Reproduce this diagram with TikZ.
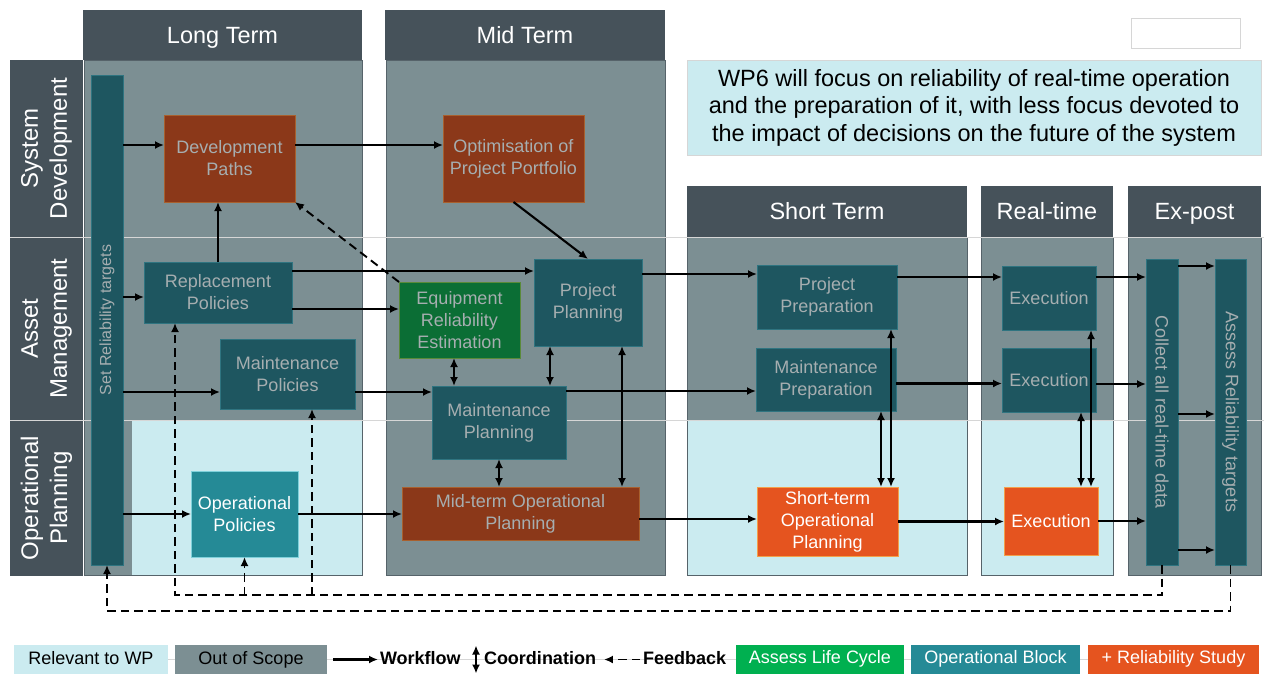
\documentclass[tikz,border=0pt]{standalone}
\usepackage{fontspec}
\setmainfont{Liberation Sans}
\usetikzlibrary{arrows.meta,calc}
\definecolor{hdr}{HTML}{46525A}
\definecolor{bodyg}{HTML}{7C8F93}
\definecolor{bodyedge}{HTML}{56636A}
\definecolor{lblue}{HTML}{CBEBF0}
\definecolor{tealc}{HTML}{1E5660}
\definecolor{tealedge}{HTML}{2F7480}
\definecolor{tgray}{HTML}{A6AEB0}
\definecolor{brownc}{HTML}{8B3819}
\definecolor{brownedge}{HTML}{A8602E}
\definecolor{greenc}{HTML}{0B6E35}
\definecolor{greenedge}{HTML}{5A8A3A}
\definecolor{teal2}{HTML}{258A96}
\definecolor{teal2edge}{HTML}{7FD0DA}
\definecolor{orangec}{HTML}{E5541F}
\definecolor{orangeedge}{HTML}{F3A04A}
\definecolor{leggreen}{HTML}{00B050}
\definecolor{faint}{HTML}{D6D6D6}
\begin{document}
\begin{tikzpicture}[x=1pt,y=-1pt,
  every node/.style={inner sep=0pt, outer sep=0pt},
  box/.style={draw, line width=0.8pt, align=center, font=\fontsize{18}{22}\selectfont},
  tealbox/.style={box, fill=tealc, draw=tealedge, text=tgray},
  brownbox/.style={box, fill=brownc, draw=brownedge, text=tgray},
  greenbox/.style={box, fill=greenc, draw=greenedge, text=tgray},
  opbox/.style={box, fill=teal2, draw=teal2edge, text=white},
  orbox/.style={box, fill=orangec, draw=orangeedge, text=white},
  hdrbox/.style={fill=hdr, text=white, text height=21pt, text depth=5pt, font=\fontsize{23.5}{27}\selectfont},
  rowtxt/.style={text=white, align=center, font=\fontsize{24}{29}\selectfont},
  bartxt/.style={text=tgray, font=\fontsize{18}{22}\selectfont},
  bodyrect/.style={fill=bodyg, draw=bodyedge, line width=0.8pt},
  bluerect/.style={fill=lblue, draw=bodyedge, line width=0.8pt},
  wf/.style={line width=2.1pt, -{Latex[length=9pt,width=8pt]}},
  co/.style={line width=2.1pt, {Latex[length=9pt,width=8pt]}-{Latex[length=9pt,width=8pt]}},
  fb/.style={line width=1.9pt, dash pattern=on 8.5pt off 5pt, -{Latex[length=9pt,width=8pt]}},
  legbox/.style={minimum height=29pt, text height=13pt, text depth=4pt, font=\fontsize{18}{22}\selectfont},
  legtxt/.style={anchor=west, text height=13pt, text depth=4pt, font=\bfseries\fontsize{18}{22}\selectfont},
]
\useasboundingbox (0,0) rectangle (1264,673);
\fill[white] (0,0) rectangle (1264,673);

% ---- column bodies
\draw[bodyrect] (84,60) rectangle (362,575);
\fill[lblue] (132,420) rectangle (362,575);
\draw[bodyedge, line width=0.8pt] (84,60) rectangle (362,575);
\draw[bodyrect] (386,60) rectangle (665,575);
\draw[bodyrect] (687,237) rectangle (967,575);
\draw[bluerect] (687,420) rectangle (967,575);
\draw[bodyrect] (981,237) rectangle (1113,575);
\draw[bluerect] (981,420) rectangle (1113,575);
\draw[bodyrect] (1128,237) rectangle (1261,575);

% ---- row headers
\fill[hdr] (10,60) rectangle (83,576);
\draw[faint, line width=0.6pt] (10,237) -- (1264,237);
\draw[faint, line width=0.6pt] (10,420) -- (1264,420);
\node[rowtxt, rotate=90] (rsys) at (46.5,148.5) {System\\Development};
\node[rowtxt, rotate=90] (rasset) at (46.5,328.5) {Asset\\Management};
\node[rowtxt, rotate=90] (rop) at (46.5,498) {Operational\\Planning};

% ---- column headers
\node[hdrbox, minimum width=279pt, minimum height=50pt] (hlong) at (222.5,35) {Long Term};
\node[hdrbox, minimum width=280pt, minimum height=50pt] (hmid) at (525,35) {Mid Term};
\node[hdrbox, minimum width=280pt, minimum height=51pt] (hshort) at (827,211) {Short Term};
\node[hdrbox, minimum width=132pt, minimum height=51pt] (hreal) at (1047,211) {Real-time};
\node[hdrbox, minimum width=133pt, minimum height=51pt] (hex) at (1194.5,211) {Ex-post};

% ---- note boxes
\node[draw=faint, line width=0.8pt, minimum width=109pt, minimum height=30pt] (blank) at (1185.5,33) {};
\node[fill=lblue, draw=faint, line width=0.8pt, minimum width=574pt, minimum height=95pt,
      align=center, font=\fontsize{23.5}{27.5}\selectfont] (note) at (974,107.5)
  {WP6 will focus on reliability of real-time operation\\and the preparation of it, with less focus devoted to\\the impact of decisions on the future of the system};

% ---- bars
\node[fill=tealc, draw=tealedge, line width=0.8pt, minimum width=32pt, minimum height=490pt] (setbar) at (107,320) {};
\node[bartxt, rotate=90, font=\fontsize{16}{19}\selectfont] (settxt) at (setbar.center) {Set Reliability targets};
\node[fill=tealc, draw=tealedge, line width=0.8pt, minimum width=32pt, minimum height=306pt] (collect) at (1162,412) {};
\node[bartxt, rotate=-90] (coltxt) at (collect.center) {Collect all real-time data};
\node[fill=tealc, draw=tealedge, line width=0.8pt, minimum width=31pt, minimum height=306pt] (assess) at (1230.5,412) {};
\node[bartxt, rotate=-90] (asstxt) at (assess.center) {Assess Reliability targets};

% ---- nodes
\node[brownbox, minimum width=131pt, minimum height=87pt] (devp) at (229.5,158.5) {Development\\Paths};
\node[brownbox, minimum width=141pt, minimum height=87pt] (opt) at (513.5,158.5) {Optimisation of\\Project Portfolio};
\node[tealbox, minimum width=148pt, minimum height=61pt] (rep) at (218,292.5) {Replacement\\Policies};
\node[tealbox, minimum width=135pt, minimum height=70pt] (mpol) at (287.5,374) {Maintenance\\Policies};
\node[greenbox, minimum width=121pt, minimum height=76pt] (ere) at (459.5,320) {Equipment\\Reliability\\Estimation};
\node[tealbox, minimum width=108pt, minimum height=87pt] (pp) at (588,302.5) {Project\\Planning};
\node[tealbox, minimum width=134pt, minimum height=73pt] (mplan) at (499,422.5) {Maintenance\\Planning};
\node[brownbox, minimum width=237pt, minimum height=53pt] (mop) at (520.5,513.5) {Mid-term Operational\\Planning};
\node[opbox, minimum width=107pt, minimum height=86pt] (opol) at (244.5,514) {Operational\\Policies};
\node[tealbox, minimum width=140pt, minimum height=64pt] (pprep) at (827,297) {Project\\Preparation};
\node[tealbox, minimum width=140pt, minimum height=63pt] (mprep) at (826,379.5) {Maintenance\\Preparation};
\node[tealbox, minimum width=94pt, minimum height=64pt] (ex1) at (1049,298) {Execution};
\node[tealbox, minimum width=94pt, minimum height=64pt] (ex2) at (1049,380) {Execution};
\node[orbox, minimum width=141pt, minimum height=69pt] (sop) at (827.5,521.5) {Short-term\\Operational\\Planning};
\node[orbox, minimum width=94pt, minimum height=68pt] (exo) at (1051,521) {Execution};

% ---- workflow arrows
\draw[wf] ([yshift=13.5pt]setbar.east |- devp.west) -- ([yshift=13.5pt]devp.west);
\draw[wf] ([yshift=13.5pt]devp.east) -- ([yshift=13.5pt]opt.west);
\draw[wf] (opt.south) -- (pp.north);
\draw[wf] (rep.north) -- (rep.north |- devp.south);
\draw[wf] ([yshift=-4.5pt]setbar.east |- rep.west) -- ([yshift=-4.5pt]rep.west);
\draw[wf] ([yshift=21.5pt]rep.east) -- ([yshift=21.5pt]rep.east -| pp.west);
\draw[wf] ([yshift=-16.5pt]rep.east) -- ([yshift=-16.5pt]rep.east -| ere.west);
\draw[wf] ([yshift=-18pt]setbar.east |- mpol.west) -- ([yshift=-18pt]mpol.west);
\draw[wf] ([yshift=-18pt]mpol.east) -- ([yshift=-18pt]mpol.east -| mplan.west);
\draw[wf] ([yshift=31.5pt]mplan.east) -- ([yshift=31.5pt]mplan.east -| mprep.west);
\draw[wf] ([yshift=28.5pt]pp.east) -- ([yshift=28.5pt]pp.east -| pprep.west);
\draw[wf] ([yshift=20pt]pprep.east) -- ([yshift=20pt]pprep.east -| ex1.west);
\draw[wf] ([yshift=21pt]ex1.east) -- ([yshift=21pt]ex1.east -| collect.west);
\draw[wf] ([yshift=-4pt]mprep.east) -- ([yshift=-4pt]mprep.east -| ex2.west);
\draw[wf] ([yshift=-4pt]ex2.east) -- ([yshift=-4pt]ex2.east -| collect.west);
\draw[wf] ([yshift=146pt]collect.east) -- ([yshift=146pt]assess.west);
\draw[wf] ([yshift=-2pt]collect.east) -- ([yshift=-2pt]assess.west);
\draw[wf] ([yshift=-138pt]collect.east) -- ([yshift=-138pt]assess.west);
\draw[wf] (setbar.east |- opol.west) -- (opol.west);
\draw[wf] (opol.east) -- (opol.east -| mop.west);
\draw[wf] ([yshift=-5.5pt]mop.east) -- ([yshift=-5.5pt]mop.east -| sop.west);
\draw[wf] (sop.east) -- (sop.east -| exo.west);
\draw[wf] (exo.east) -- (exo.east -| collect.west);

% ---- coordination arrows
\draw[co] ([xshift=-5.5pt]ere.south) -- ([xshift=-5.5pt]ere.south |- mplan.north);
\draw[co] ([xshift=-38pt]pp.south) -- ([xshift=-38pt]pp.south |- mplan.north);
\draw[co] (mplan.south) -- (mplan.south |- mop.north);
\draw[co] ([xshift=34pt]pp.south) -- ([xshift=34pt]pp.south |- mop.north);
\draw[co] ([xshift=55pt]mprep.south) -- ([xshift=55pt]mprep.south |- sop.north);
\draw[co] ([xshift=64pt]pprep.south) -- ([xshift=64pt]pprep.south |- sop.north);
\draw[co] ([xshift=32pt]ex2.south) -- ([xshift=32pt]ex2.south |- exo.north);
\draw[co] ([xshift=42pt]ex1.south) -- ([xshift=42pt]ex1.south |- exo.north);

% ---- feedback
\coordinate (fbA) at (175,595);
\coordinate (fbM) at (312,595);
\coordinate (fbB) at (107,611);
\draw[fb] (ere.north west) -- (devp.south east);
\draw[fb] (collect.south) |- (fbA) -- (fbA |- rep.south);
\draw[fb] (opol.south |- fbA) -- (opol.south);
\draw[fb] (fbM) -- (fbM |- mpol.south);
\draw[fb] (assess.south) |- (fbB) -- (setbar.south);

% ---- legend
\draw[faint, line width=0.8pt] (14,659) -- (1259,659);
\node[legbox, fill=lblue, minimum width=154pt] (legrel) at (91,659.5) {Relevant to WP};
\node[legbox, fill=bodyg, minimum width=152pt] (legout) at (251,659.5) {Out of Scope};
\node[legtxt] (wft) at (380,659.5) {Workflow};
\draw[wf] ([xshift=6pt]legout.east) -- ([xshift=-2pt]wft.west);
\node[legtxt] (cot) at (484,659.5) {Coordination};
\draw[co] ([xshift=-8pt,yshift=14pt]cot.west) -- ([xshift=-8pt,yshift=-14pt]cot.west);
\node[legtxt] (fbt) at (643,659.5) {Feedback};
\draw[fb] ([xshift=-3pt]fbt.west) -- ([xshift=8pt]cot.east);
\node[legbox, fill=leggreen, text=white, minimum width=168pt] (leggr) at (820,659) {Assess Life Cycle};
\node[legbox, fill=teal2, text=white, minimum width=169pt] (legte) at (995.5,659) {Operational Block};
\node[legbox, fill=orangec, text=white, minimum width=171pt] (legor) at (1173.5,659) {+ Reliability Study};
\end{tikzpicture}
\end{document}
